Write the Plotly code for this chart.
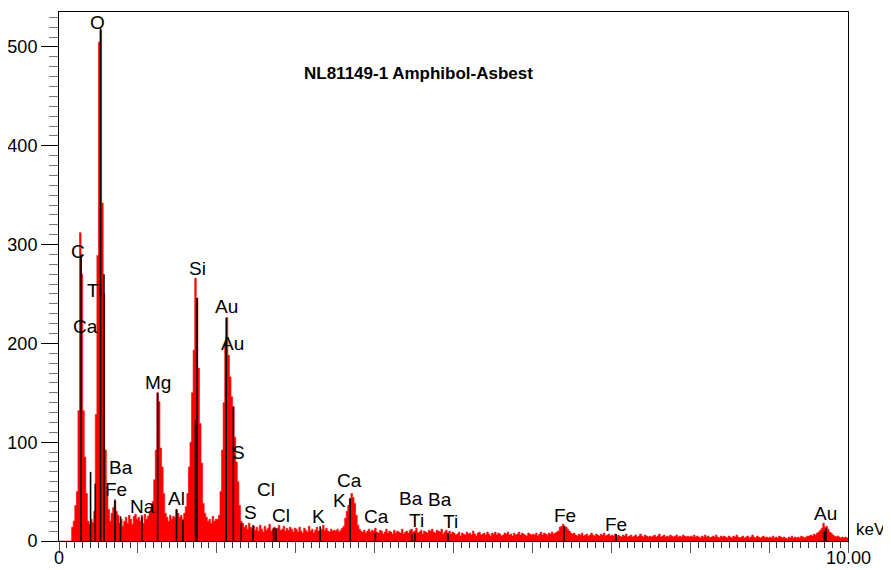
import numpy as np
import plotly.graph_objects as go

# ---------------- data ----------------
CHANNEL_KEV = 0.02  # width of one spectrum channel, keV

# counts per 0.02 keV channel, one row per 0.5 keV
counts_0_0 = [0, 0, 0, 0, 0, 0, 0, 0, 14, 20, 36, 50, 132, 312, 270, 132, 85, 48, 20, 17, 22, 19, 30, 128, 289]
counts_0_5 = [505, 517, 342, 250, 92, 55, 32, 20, 28, 34, 40, 30, 26, 18, 22, 15, 20, 24, 18, 26, 22, 17, 25, 27, 22]
counts_1_0 = [24, 20, 26, 18, 27, 22, 25, 30, 33, 40, 62, 92, 150, 141, 94, 75, 48, 28, 24, 20, 26, 22, 25, 24, 32]
counts_1_5 = [28, 24, 26, 22, 28, 35, 48, 75, 100, 150, 193, 266, 246, 175, 119, 79, 38, 28, 24, 20, 22, 18, 25, 20, 22]
counts_2_0 = [22, 26, 50, 92, 140, 200, 226, 188, 166, 146, 136, 105, 80, 60, 36, 20, 18, 14, 16, 12, 18, 14, 12, 15, 11]
counts_2_5 = [14, 10, 16, 12, 9, 15, 11, 13, 17, 10, 12, 14, 9, 13, 16, 11, 12, 15, 10, 13, 11, 14, 12, 9, 13]
counts_3_0 = [12, 9, 14, 10, 8, 13, 11, 9, 15, 10, 12, 8, 11, 14, 10, 9, 12, 16, 11, 13, 10, 9, 12, 10, 11]
counts_3_5 = [10, 12, 9, 11, 13, 15, 23, 30, 36, 43, 48, 44, 38, 26, 16, 12, 10, 9, 11, 8, 10, 12, 9, 11, 10]
counts_4_0 = [13, 9, 8, 11, 10, 7, 9, 12, 8, 10, 9, 7, 11, 8, 10, 9, 8, 12, 7, 9, 10, 8, 11, 12, 9]
counts_4_5 = [10, 13, 8, 9, 11, 7, 10, 9, 8, 11, 10, 12, 9, 8, 11, 10, 9, 12, 7, 9, 11, 8, 10, 7, 9]
counts_5_0 = [8, 6, 7, 9, 5, 8, 7, 6, 9, 7, 8, 6, 10, 7, 5, 8, 9, 6, 7, 8, 6, 9, 7, 5, 8]
counts_5_5 = [7, 9, 6, 8, 7, 5, 6, 8, 7, 9, 6, 7, 5, 8, 6, 7, 9, 6, 8, 7, 6, 5, 8, 7, 6]
counts_6_0 = [7, 6, 8, 5, 7, 9, 6, 8, 7, 6, 8, 7, 9, 7, 8, 9, 10, 14, 15, 17, 15, 14, 12, 10, 8]
counts_6_5 = [7, 8, 6, 5, 7, 6, 8, 5, 6, 7, 5, 6, 8, 6, 5, 7, 6, 5, 7, 6, 8, 5, 6, 7, 5]
counts_7_0 = [6, 5, 7, 4, 6, 5, 4, 6, 5, 7, 4, 5, 6, 4, 5, 6, 4, 5, 7, 5, 4, 6, 5, 4, 5]
counts_7_5 = [4, 5, 6, 4, 5, 7, 4, 5, 6, 4, 5, 4, 6, 5, 4, 5, 6, 4, 5, 4, 6, 5, 4, 5, 4]
counts_8_0 = [5, 4, 6, 4, 5, 4, 3, 5, 4, 6, 4, 5, 3, 4, 5, 4, 6, 4, 3, 5, 4, 5, 4, 3, 5]
counts_8_5 = [4, 3, 5, 4, 6, 4, 3, 4, 5, 3, 4, 5, 3, 4, 6, 4, 3, 5, 4, 3, 4, 5, 3, 4, 3]
counts_9_0 = [4, 3, 5, 3, 4, 3, 5, 4, 3, 4, 3, 2, 4, 3, 5, 3, 4, 3, 4, 3, 5, 4, 3, 4, 5]
counts_9_5 = [5, 6, 5, 7, 6, 8, 9, 11, 13, 18, 14, 15, 12, 9, 8, 6, 5, 4, 5, 4, 3, 4, 3, 4, 3]

# element line markers (keV, counts)
marker_energy = [0.28, 0.40, 0.46, 0.527, 0.57, 0.71, 0.78, 1.05, 1.25, 1.49, 1.57,
                 1.73, 1.75, 2.12, 2.21, 2.31, 2.46, 2.72, 2.75, 3.31, 3.69, 4.01,
                 4.47, 4.51, 4.93, 6.40, 7.06, 9.70, 9.72]
marker_height = [290, 70, 58, 519, 270, 42, 25, 24, 150, 32, 21,
                 122, 246, 226, 136, 18, 16, 13, 13, 15, 43, 8,
                 7, 8, 8, 15, 7, 10, 13]

# peak labels
label_text = ["O", "C", "Ti", "Ca", "Si", "Au", "Au", "Mg", "Ba", "Fe", "Na", "Al",
              "S", "Cl", "S", "Cl", "K", "Ca", "K", "Ca", "Ba", "Ti", "Ba", "Ti",
              "Fe", "Fe", "Au"]
label_kev = [0.482, 0.241, 0.456, 0.342, 1.749, 2.117, 2.205, 1.255, 0.786, 0.722, 1.052, 1.483,
             2.281, 2.624, 2.433, 2.814, 3.283, 3.688, 3.561, 4.018, 4.461, 4.525, 4.829, 4.956,
             6.413, 7.06, 9.721]
label_cnt = [525, 293, 254, 217, 276, 237, 200, 160, 74, 52, 35, 43,
             90, 52, 29, 26, 25, 61, 41, 25, 43, 21, 42, 20,
             26, 17, 28]

title_text = "NL81149-1 Amphibol-Asbest"
x_end_labels = ["0", "10.00"]   # at 0 and 10 keV

# ---------------- figure ----------------
counts = (counts_0_0 + counts_0_5 + counts_1_0 + counts_1_5 + counts_2_0 + counts_2_5 +
          counts_3_0 + counts_3_5 + counts_4_0 + counts_4_5 + counts_5_0 + counts_5_5 +
          counts_6_0 + counts_6_5 + counts_7_0 + counts_7_5 + counts_8_0 + counts_8_5 +
          counts_9_0 + counts_9_5)
edges = np.arange(len(counts) + 1) * CHANNEL_KEV
ystep = counts + [counts[-1]]

FONT = "Liberation Sans, Arial, sans-serif"

fig = go.Figure()
fig.add_trace(go.Scatter(
    x=edges, y=ystep, mode="lines", line=dict(shape="hv", color="#FF0000", width=0.6),
    fill="tozeroy", fillcolor="#FF0000", hoverinfo="skip", showlegend=False))

mx, my = [], []
for e, h in zip(marker_energy, marker_height):
    mx += [e, e, None]
    my += [0, h, None]
fig.add_trace(go.Scatter(x=mx, y=my, mode="lines", line=dict(color="black", width=1.6),
                         hoverinfo="skip", showlegend=False))

for t, xk, yc in zip(label_text, label_kev, label_cnt):
    fig.add_annotation(x=xk, y=yc, xref="x", yref="y", text=t, showarrow=False,
                       xanchor="center", yanchor="middle",
                       font=dict(family=FONT, size=19, color="black"))

fig.add_annotation(x=0.456, y=0.883, xref="paper", yref="paper", text="<b>" + title_text + "</b>",
                   showarrow=False, xanchor="center", yanchor="middle",
                   font=dict(family=FONT, size=17, color="black"))
fig.add_annotation(x=1.0076, y=0.0208, xref="paper", yref="paper", text="keV",
                   showarrow=False, xanchor="left", yanchor="middle",
                   font=dict(family=FONT, size=17, color="black"))
for xv, t in zip([0, 10], x_end_labels):
    fig.add_annotation(x=xv, y=-0.032, xref="x", yref="paper", text=t, showarrow=False,
                       xanchor="center", yanchor="middle",
                       font=dict(family=FONT, size=18, color="black"))

# the page body adds an 8 px offset, so the margins are shifted to compensate
fig.update_layout(
    width=891, height=562,
    margin=dict(l=51, r=51, t=4, b=29),
    paper_bgcolor="white", plot_bgcolor="white",
    font=dict(family=FONT, size=17, color="black"),
    showlegend=False,
)
fig.update_xaxes(
    range=[0, 10], showgrid=False, zeroline=False, automargin=False,
    showline=True, linecolor="black", linewidth=1, mirror=True,
    ticks="outside", tickvals=list(range(11)), showticklabels=False,
    ticklen=11, tickcolor="#555555", tickwidth=1,
    minor=dict(dtick=0.1, tick0=0, ticks="outside", ticklen=6, tickcolor="#333333", tickwidth=1),
)
fig.update_yaxes(
    range=[0, 535.4], showgrid=False, zeroline=False, automargin=False,
    showline=True, linecolor="black", linewidth=1, mirror=True,
    ticks="outside", tickvals=[0, 100, 200, 300, 400, 500],
    ticklen=17, tickcolor="black", tickwidth=1,
    minor=dict(dtick=10, tick0=0, ticks="outside", ticklen=9, tickcolor="#777777", tickwidth=1),
    tickfont=dict(family=FONT, size=18, color="black"),
)

fig.write_html("out.html")
